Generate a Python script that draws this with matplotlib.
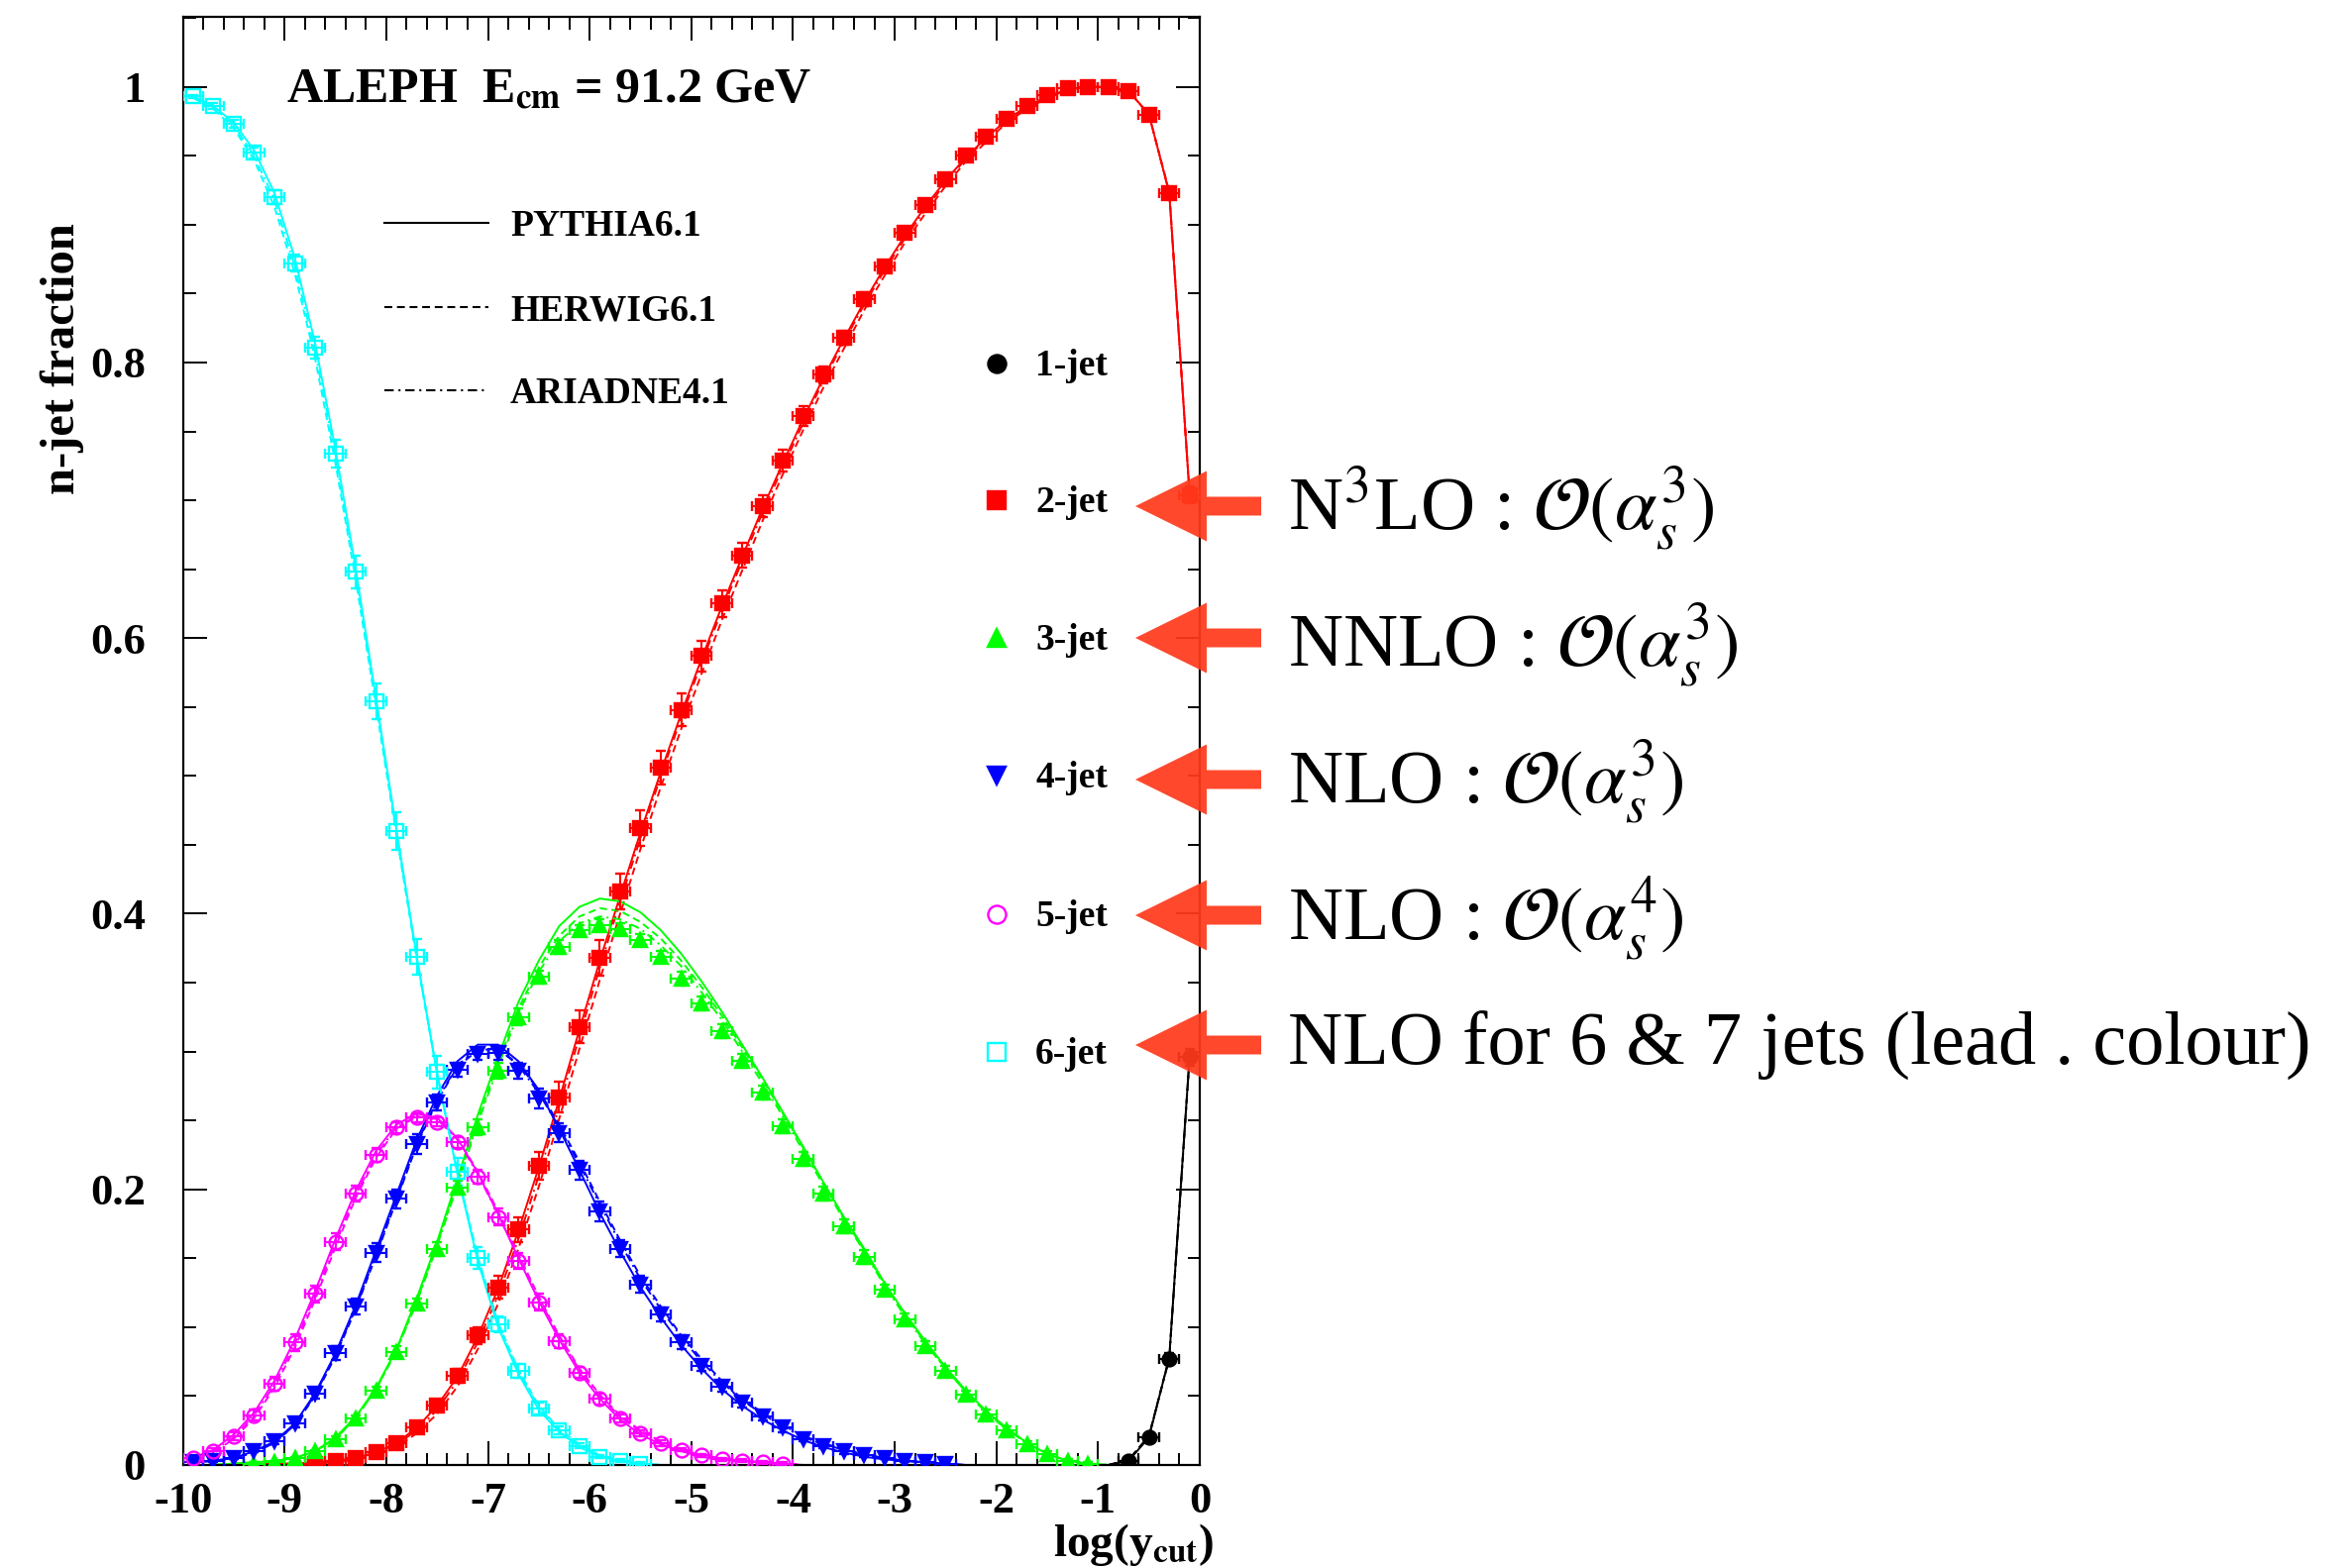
import matplotlib.pyplot as plt
import numpy as np
from matplotlib.lines import Line2D
from matplotlib.patches import FancyArrow
from matplotlib.ticker import FixedLocator, MultipleLocator, FuncFormatter

plt.rcParams['font.family'] = ['Liberation Serif', 'DejaVu Serif']
plt.rcParams['mathtext.fontset'] = 'stix'
plt.rcParams['axes.unicode_minus'] = False

# bin centres in log(y_cut)
log_ycut = np.round(np.arange(-9.9, 0.0, 0.2), 1)


def pad(vals):
    return np.array(list(vals) + [0.0] * (len(log_ycut) - len(vals)), dtype=float)


# ALEPH data: n-jet fractions (0 = no point drawn)
jet1 = [0] * 46 + [0.003, 0.020, 0.077, 0.296]
jet2 = [0, 0, 0, 0, 0, 0, 0.001, 0.003, 0.005, 0.0095,
        0.016, 0.027, 0.043, 0.065, 0.094, 0.129, 0.171, 0.217, 0.267, 0.318,
        0.368, 0.416, 0.462, 0.506, 0.548, 0.587, 0.625, 0.660, 0.696, 0.729,
        0.761, 0.791, 0.818, 0.846, 0.870, 0.894, 0.914, 0.933, 0.950, 0.964,
        0.977, 0.986, 0.994, 0.999, 1.000, 1.000, 0.997, 0.980, 0.923, 0.704]
jet3 = [0, 0, 0, 0.001, 0.002, 0.005, 0.010, 0.019, 0.034, 0.054,
        0.082, 0.117, 0.157, 0.201, 0.245, 0.286, 0.325, 0.354, 0.376, 0.388,
        0.392, 0.389, 0.381, 0.369, 0.353, 0.335, 0.315, 0.293, 0.270, 0.246,
        0.222, 0.197, 0.173, 0.151, 0.127, 0.106, 0.086, 0.068, 0.051, 0.037,
        0.025, 0.015, 0.008, 0.003, 0.001]
jet4 = [0.002, 0.003, 0.005, 0.010, 0.017, 0.030, 0.052, 0.081, 0.115, 0.154,
        0.193, 0.233, 0.263, 0.287, 0.298, 0.299, 0.286, 0.266, 0.241, 0.214,
        0.184, 0.157, 0.131, 0.109, 0.089, 0.072, 0.057, 0.045, 0.035, 0.027,
        0.019, 0.014, 0.010, 0.007, 0.005, 0.003, 0.002, 0.001]
jet5 = [0.005, 0.010, 0.021, 0.036, 0.059, 0.089, 0.124, 0.162, 0.197, 0.225,
        0.245, 0.252, 0.249, 0.234, 0.209, 0.180, 0.148, 0.118, 0.090, 0.067,
        0.048, 0.034, 0.023, 0.016, 0.011, 0.007, 0.004, 0.003, 0.002, 0.001]
jet6 = [0.993, 0.986, 0.973, 0.952, 0.920, 0.872, 0.811, 0.734, 0.648, 0.554,
        0.460, 0.369, 0.285, 0.213, 0.150, 0.102, 0.068, 0.041, 0.025, 0.014,
        0.006, 0.003, 0.001]

# vertical uncertainties on the data
err1 = [0] * 46 + [0.001, 0.002, 0.004, 0.006]
err2 = [0, 0, 0, 0.001, 0.001, 0.001, 0.001, 0.001, 0.001, 0.002,
        0.002, 0.003, 0.004, 0.005, 0.006, 0.008, 0.009, 0.010, 0.011, 0.012,
        0.013, 0.013, 0.013, 0.012, 0.012, 0.011, 0.010, 0.009, 0.008, 0.008,
        0.007, 0.006, 0.005, 0.005, 0.004, 0.004, 0.003, 0.003, 0.003, 0.002,
        0.002, 0.002, 0.002, 0.002, 0.002, 0.002, 0.002, 0.003, 0.004, 0.006]
err3 = [0, 0, 0, 0.001, 0.001, 0.001, 0.001, 0.002, 0.002, 0.003,
        0.004, 0.004, 0.005, 0.005, 0.006, 0.006, 0.006, 0.005, 0.005, 0.004,
        0.004, 0.004, 0.004, 0.004, 0.005, 0.005, 0.005, 0.005, 0.005, 0.005,
        0.005, 0.005, 0.005, 0.005, 0.004, 0.004, 0.004, 0.004, 0.003, 0.003,
        0.003, 0.002, 0.002, 0.001, 0.001]
err4 = [0.001, 0.001, 0.001, 0.001, 0.002, 0.003, 0.004, 0.005, 0.006, 0.007,
        0.007, 0.007, 0.006, 0.005, 0.004, 0.005, 0.006, 0.007, 0.007, 0.007,
        0.007, 0.006, 0.006, 0.005, 0.005, 0.004, 0.004, 0.003, 0.003, 0.003,
        0.002, 0.002, 0.002, 0.001, 0.001, 0.001, 0.001, 0.001]
err5 = [0.001, 0.002, 0.003, 0.004, 0.005, 0.006, 0.006, 0.006, 0.006, 0.005,
        0.004, 0.003, 0.003, 0.004, 0.005, 0.006, 0.006, 0.006, 0.005, 0.004,
        0.004, 0.003, 0.002, 0.002, 0.001, 0.001, 0.001, 0.001, 0.001, 0.001]
err6 = [0.001, 0.002, 0.003, 0.004, 0.005, 0.006, 0.008, 0.010, 0.012, 0.013,
        0.014, 0.013, 0.012, 0.010, 0.008, 0.006, 0.005, 0.004, 0.003, 0.002,
        0.001, 0.001, 0.001]

# PYTHIA 6.1
py1 = [0] * 46 + [0.003, 0.020, 0.078, 0.297]
py2 = [0, 0, 0, 0.001, 0.001, 0.001, 0.002, 0.003, 0.005, 0.009,
       0.016, 0.027, 0.043, 0.064, 0.093, 0.128, 0.170, 0.216, 0.265, 0.316,
       0.366, 0.413, 0.459, 0.503, 0.545, 0.585, 0.623, 0.659, 0.694, 0.727,
       0.759, 0.789, 0.817, 0.844, 0.869, 0.892, 0.913, 0.932, 0.949, 0.963,
       0.976, 0.986, 0.993, 0.998, 1.000, 1.000, 0.997, 0.980, 0.923, 0.704]
py3 = [0, 0, 0.001, 0.002, 0.003, 0.005, 0.010, 0.020, 0.035, 0.056,
       0.084, 0.121, 0.162, 0.208, 0.254, 0.296, 0.336, 0.366, 0.391, 0.405,
       0.411, 0.409, 0.401, 0.388, 0.371, 0.351, 0.329, 0.305, 0.281, 0.256,
       0.231, 0.205, 0.180, 0.157, 0.132, 0.110, 0.090, 0.071, 0.054, 0.039,
       0.027, 0.016, 0.008, 0.003, 0.001]
py4 = [0.002, 0.003, 0.005, 0.010, 0.017, 0.030, 0.052, 0.081, 0.116, 0.156,
       0.196, 0.236, 0.268, 0.293, 0.305, 0.305, 0.293, 0.272, 0.244, 0.214,
       0.183, 0.155, 0.129, 0.107, 0.087, 0.070, 0.055, 0.043, 0.033, 0.025,
       0.018, 0.013, 0.009, 0.006, 0.004, 0.003, 0.002, 0.001]
py5 = [0.005, 0.011, 0.022, 0.038, 0.061, 0.091, 0.126, 0.164, 0.199, 0.228,
       0.247, 0.255, 0.252, 0.237, 0.212, 0.182, 0.150, 0.119, 0.091, 0.067,
       0.048, 0.033, 0.022, 0.015, 0.010, 0.006, 0.004, 0.003, 0.002, 0.001]
py6 = [0.993, 0.986, 0.974, 0.954, 0.923, 0.876, 0.814, 0.737, 0.650, 0.556,
       0.461, 0.369, 0.284, 0.211, 0.148, 0.100, 0.066, 0.040, 0.024, 0.013,
       0.006, 0.003, 0.001]

# HERWIG 6.1
hw1 = [0] * 46 + [0.004, 0.021, 0.078, 0.296]
hw2 = [0, 0, 0, 0, 0.001, 0.001, 0.001, 0.002, 0.004, 0.008,
       0.013, 0.023, 0.037, 0.057, 0.084, 0.117, 0.157, 0.202, 0.251, 0.302,
       0.352, 0.400, 0.447, 0.492, 0.534, 0.574, 0.613, 0.649, 0.685, 0.719,
       0.751, 0.782, 0.810, 0.838, 0.863, 0.887, 0.908, 0.928, 0.946, 0.960,
       0.974, 0.984, 0.992, 0.998, 1.000, 1.000, 0.997, 0.980, 0.924, 0.705]
hw3 = [0, 0, 0.001, 0.002, 0.003, 0.005, 0.010, 0.019, 0.034, 0.055,
       0.083, 0.119, 0.160, 0.205, 0.250, 0.292, 0.331, 0.361, 0.384, 0.398,
       0.404, 0.402, 0.394, 0.382, 0.366, 0.347, 0.326, 0.303, 0.280, 0.255,
       0.230, 0.204, 0.179, 0.156, 0.131, 0.109, 0.089, 0.070, 0.053, 0.038,
       0.026, 0.016, 0.008, 0.003, 0.001]
hw4 = [0.002, 0.003, 0.005, 0.009, 0.016, 0.029, 0.050, 0.079, 0.113, 0.152,
       0.192, 0.232, 0.264, 0.289, 0.301, 0.302, 0.291, 0.272, 0.247, 0.220,
       0.191, 0.163, 0.137, 0.115, 0.094, 0.077, 0.061, 0.048, 0.038, 0.029,
       0.021, 0.016, 0.011, 0.008, 0.005, 0.003, 0.002, 0.001]
hw5 = [0.004, 0.009, 0.019, 0.034, 0.056, 0.085, 0.120, 0.158, 0.194, 0.223,
       0.244, 0.253, 0.251, 0.237, 0.213, 0.184, 0.153, 0.122, 0.094, 0.070,
       0.051, 0.036, 0.025, 0.017, 0.011, 0.007, 0.005, 0.003, 0.002, 0.001]
hw6 = [0.992, 0.984, 0.970, 0.947, 0.913, 0.865, 0.803, 0.727, 0.642, 0.550,
       0.457, 0.367, 0.284, 0.212, 0.151, 0.103, 0.069, 0.043, 0.026, 0.015,
       0.007, 0.003, 0.001]

# ARIADNE 4.1
ar1 = [0] * 46 + [0.003, 0.021, 0.077, 0.296]
ar2 = [0, 0, 0, 0.001, 0.001, 0.001, 0.002, 0.003, 0.005, 0.009,
       0.015, 0.025, 0.040, 0.061, 0.089, 0.123, 0.164, 0.210, 0.260, 0.311,
       0.361, 0.409, 0.455, 0.500, 0.542, 0.582, 0.620, 0.656, 0.691, 0.724,
       0.756, 0.787, 0.815, 0.842, 0.867, 0.890, 0.911, 0.930, 0.948, 0.962,
       0.975, 0.985, 0.993, 0.998, 1.000, 1.000, 0.997, 0.980, 0.923, 0.704]
ar3 = [0, 0, 0.001, 0.002, 0.003, 0.005, 0.010, 0.019, 0.034, 0.055,
       0.083, 0.118, 0.159, 0.203, 0.248, 0.289, 0.328, 0.358, 0.380, 0.393,
       0.398, 0.396, 0.389, 0.377, 0.362, 0.343, 0.323, 0.300, 0.277, 0.253,
       0.228, 0.203, 0.178, 0.155, 0.130, 0.108, 0.088, 0.070, 0.053, 0.038,
       0.026, 0.016, 0.008, 0.003, 0.001]
ar4 = [0.002, 0.003, 0.005, 0.009, 0.016, 0.029, 0.051, 0.080, 0.114, 0.153,
       0.193, 0.233, 0.265, 0.290, 0.302, 0.302, 0.290, 0.270, 0.245, 0.218,
       0.189, 0.161, 0.135, 0.113, 0.093, 0.075, 0.060, 0.047, 0.037, 0.028,
       0.020, 0.015, 0.011, 0.007, 0.005, 0.003, 0.002, 0.001]
ar5 = [0.005, 0.010, 0.020, 0.036, 0.058, 0.088, 0.123, 0.161, 0.196, 0.225,
       0.245, 0.253, 0.251, 0.236, 0.211, 0.182, 0.151, 0.121, 0.093, 0.069,
       0.050, 0.035, 0.024, 0.016, 0.011, 0.007, 0.004, 0.003, 0.002, 0.001]
ar6 = [0.993, 0.985, 0.972, 0.950, 0.918, 0.870, 0.808, 0.732, 0.646, 0.553,
       0.459, 0.368, 0.284, 0.212, 0.150, 0.102, 0.068, 0.042, 0.025, 0.014,
       0.007, 0.003, 0.001]

jet_labels = ['1-jet', '2-jet', '3-jet', '4-jet', '5-jet', '6-jet']
jet_colors = ['black', '#ff0000', '#00ff00', '#0000ff', '#ff00ff', '#00ffff']
jet_markers = ['o', 's', '^', 'v', 'o', 's']
jet_filled = [True, True, True, True, False, False]
generators = ['PYTHIA6.1', 'HERWIG6.1', 'ARIADNE4.1']
orders = [r'N$^3$LO : $\mathcal{O}(\alpha_s^3)$',
          r'NNLO : $\mathcal{O}(\alpha_s^3)$',
          r'NLO : $\mathcal{O}(\alpha_s^3)$',
          r'NLO : $\mathcal{O}(\alpha_s^4)$',
          'NLO for 6 & 7 jets (lead . colour)']

W, H = 2372, 1583
fig = plt.figure(figsize=(W / 100, H / 100), dpi=100)
ax = fig.add_axes([184.6 / W, 104 / H, 1026.4 / W, 1462 / H])


def px(x, y):
    # pixel position (from top-left) -> figure fraction
    return x / W, 1 - y / H


dashed = (3.8, 2.3)
dashdot = (4.5, 2.3, 1.0, 2.3)

data = [jet1, jet2, jet3, jet4, jet5, jet6]
errs = [err1, err2, err3, err4, err5, err6]
mc = [(py1, hw1, ar1), (py2, hw2, ar2), (py3, hw3, ar3),
      (py4, hw4, ar4), (py5, hw5, ar5), (py6, hw6, ar6)]

for vals, err, (py, hw, ar), col, mk, filled in zip(data, errs, mc, jet_colors,
                                                     jet_markers, jet_filled):
    ax.plot(log_ycut, pad(py), color=col, lw=1.4, zorder=2)
    ax.plot(log_ycut, pad(hw), color=col, lw=1.4, dashes=dashed, zorder=2)
    ax.plot(log_ycut, pad(ar), color=col, lw=1.4, dashes=dashdot, zorder=2)
    v = pad(vals)
    e = pad(err)
    m = v > 0
    ax.errorbar(log_ycut[m], v[m], yerr=e[m], xerr=0.1, fmt=mk, ms=10,
                mfc=col if filled else 'none', mec=col, mew=1.7,
                ecolor=col, elinewidth=1.5, capsize=3.8, capthick=1.5,
                zorder=3)

ax.set_xlim(-10, 0)
ax.set_ylim(0, 1.0508)
ax.xaxis.set_major_locator(FixedLocator(np.arange(-10, 1)))
ax.xaxis.set_minor_locator(MultipleLocator(0.2))
ax.yaxis.set_major_locator(FixedLocator([0, 0.2, 0.4, 0.6, 0.8, 1.0]))
ax.yaxis.set_minor_locator(MultipleLocator(0.05))
fmt = FuncFormatter(lambda val, pos: f'{val:g}')
ax.xaxis.set_major_formatter(fmt)
ax.yaxis.set_major_formatter(fmt)
ax.tick_params(which='both', direction='in', top=True, right=True,
               width=1.4, labelsize=32)
ax.tick_params(which='major', length=17)
ax.tick_params(which='minor', length=9)
ax.tick_params(axis='x', pad=12)
ax.tick_params(axis='y', pad=27)
plt.setp(ax.get_xticklabels() + ax.get_yticklabels(), fontweight='bold')
for sp in ax.spines.values():
    sp.set_linewidth(1.6)

fig.text(*px(63, 362), 'n-jet fraction', rotation=90, ha='center',
         va='center', fontsize=35, fontweight='bold')
fig.text(*px(1225, 1571), r'log(y$_{\mathbf{cut}}$)', ha='right',
         va='baseline', fontsize=34, fontweight='bold')
fig.text(*px(289, 103), r'ALEPH  E$_{\mathbf{cm}}$ = 91.2 GeV',
         ha='left', va='baseline', fontsize=36, fontweight='bold')

# generator line styles
for name, ls, yc in zip(generators, [None, dashed, dashdot], [225, 310, 394]):
    x0, y0 = px(388, yc)
    x1, _ = px(493, yc)
    line = Line2D([x0, x1], [y0, y0], color='black', lw=1.5,
                  transform=fig.transFigure)
    if ls is not None:
        line.set_dashes(ls)
    fig.add_artist(line)
    fig.text(*px(515, yc + 13), name, ha='left', va='baseline', fontsize=27,
             fontweight='bold')

# jet multiplicity markers
for lab, col, mk, filled, yc in zip(jet_labels, jet_colors, jet_markers,
                                    jet_filled, [367, 505, 644, 783, 923, 1062]):
    x0, y0 = px(1006, yc)
    fig.add_artist(Line2D([x0], [y0], marker=mk, ms=13, ls='none',
                          mfc=col if filled else 'none', mec=col, mew=1.7,
                          transform=fig.transFigure))
    fig.text(*px(1045, yc + 12), lab, ha='left', va='baseline', fontsize=27,
             fontweight='bold')

# perturbative order for each multiplicity
for txt, yc, yb in zip(orders, [511, 644, 787, 924, 1055],
                       [535, 672, 811, 949, 1075]):
    x0, y0 = px(1273, yc)
    fig.add_artist(FancyArrow(x0, y0, -127 / W, 0, width=19 / H,
                              head_width=71 / H, head_length=72 / W,
                              length_includes_head=True, color='#ff3a1c',
                              alpha=0.93, lw=0, transform=fig.transFigure,
                              zorder=5))
    fig.text(*px(1300, yb), txt, ha='left', va='baseline', fontsize=55,
             fontweight='normal')

fig.savefig('out.png', dpi=100, facecolor='white')
